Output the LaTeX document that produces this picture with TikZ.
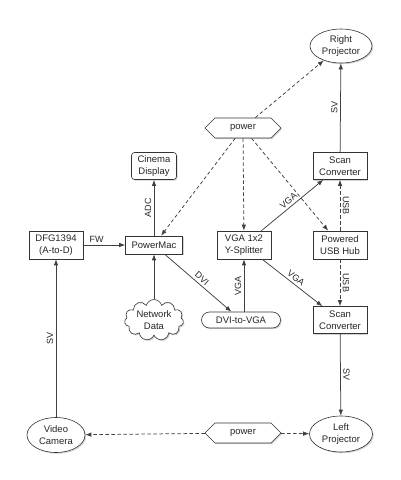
\documentclass[tikz,border=0pt]{standalone}
\usepackage{fontspec}
\setmainfont{Liberation Sans}
\usetikzlibrary{shapes.geometric,shapes.symbols,shadows,arrows.meta}
\begin{document}
\begin{tikzpicture}[x=1pt,y=-1pt,
  base/.style={draw=black!80, fill=white, line width=0.6pt,
    font=\fontsize{9.5}{11.5}\selectfont, text=black!85, align=center, inner sep=1pt,
    drop shadow={opacity=0.35, shadow xshift=1.2pt, shadow yshift=-1.2pt}},
  box/.style={base, rectangle, minimum width=54pt, minimum height=28pt},
  rbox/.style={box, rounded corners=3pt},
  oval/.style={base, ellipse, minimum width=62pt, minimum height=34pt},
  hexa/.style={base, signal, signal to=west and east, minimum width=76pt, minimum height=20pt},
  cloudy/.style={base, cloud, cloud puffs=11, aspect=1.8, inner xsep=0pt, inner ysep=1.5pt},
  pill/.style={base, rounded corners=8pt, minimum width=79pt, minimum height=16pt},
  conn/.style={draw=black!75, line width=0.75pt, -{Latex[length=6pt,width=4.5pt]}},
  dconn/.style={conn, dash pattern=on 3.5pt off 2.5pt},
  lab/.style={font=\fontsize{9}{10}\selectfont, text=black!85, inner sep=2.5pt}
]
\useasboundingbox (0,0) rectangle (400,480);

\node[oval] (rp) at (341,46) {Right\\Projector};
\node[hexa] (ptop) at (243,128) {power};
\node[rbox, minimum width=45pt, minimum height=27pt] (cd) at (154,166) {Cinema\\Display};
\node[box, minimum height=27pt] (sc1) at (340,166) {Scan\\Converter};
\node[box] (dfg) at (56,245) {DFG1394\\(A-to-D)};
\node[box, minimum width=57pt, minimum height=18pt] (pm) at (154,245) {PowerMac};
\node[box] (spl) at (244,245) {VGA 1x2\\Y-Splitter};
\node[box] (hub) at (340,245) {Powered\\USB Hub};
\node[cloudy] (nd) at (154,320) {Network\\Data};
\node[pill] (dvi) at (241,320) {DVI-to-VGA};
\node[box, minimum height=27pt] (sc2) at (340,320) {Scan\\Converter};
\node[oval, minimum width=58pt, minimum height=35pt] (vc) at (56,435) {Video\\Camera};
\node[hexa] (pbot) at (243,433) {power};
\node[oval, minimum width=63pt, minimum height=36pt] (lp) at (341,434) {Left\\Projector};

% power (top)
\draw[dconn] (ptop) -- (rp);
\draw[dconn] (ptop) -- (pm);
\draw[dconn] (ptop) -- (spl);
\draw[dconn] (ptop) -- (hub);

% signals
\draw[conn] (pm) -- node[lab, midway, sloped, above] {ADC} (cd);
\draw[conn] (dfg) -- node[lab, pos=0.32, above] {FW} (pm);
\draw[conn] (nd) -- (pm);
\draw[conn] (pm) -- node[lab, midway, sloped, above] {DVI} (dvi);
\draw[conn] (dvi.north -| spl.south) -- node[lab, midway, sloped, above] {VGA} (spl.south);
\draw[conn] (spl) -- node[lab, midway, sloped, above] {VGA} (sc1);
\draw[conn] (spl) -- node[lab, midway, sloped, above] {VGA} (sc2);
\draw[conn] (sc1) -- node[lab, midway, sloped, above] {SV} (rp);
\draw[dconn] (hub) -- node[lab, midway, rotate=-90, anchor=south] {USB} (sc1);
\draw[dconn] (hub) -- node[lab, midway, sloped, above] {USB} (sc2);
\draw[conn] (sc2) -- node[lab, midway, sloped, above] {SV} (lp);
\draw[conn] (vc) -- node[lab, midway, sloped, above] {SV} (dfg);

% power (bottom)
\draw[dconn] (pbot) -- (vc);
\draw[dconn] (pbot) -- (lp);
\end{tikzpicture}
\end{document}
